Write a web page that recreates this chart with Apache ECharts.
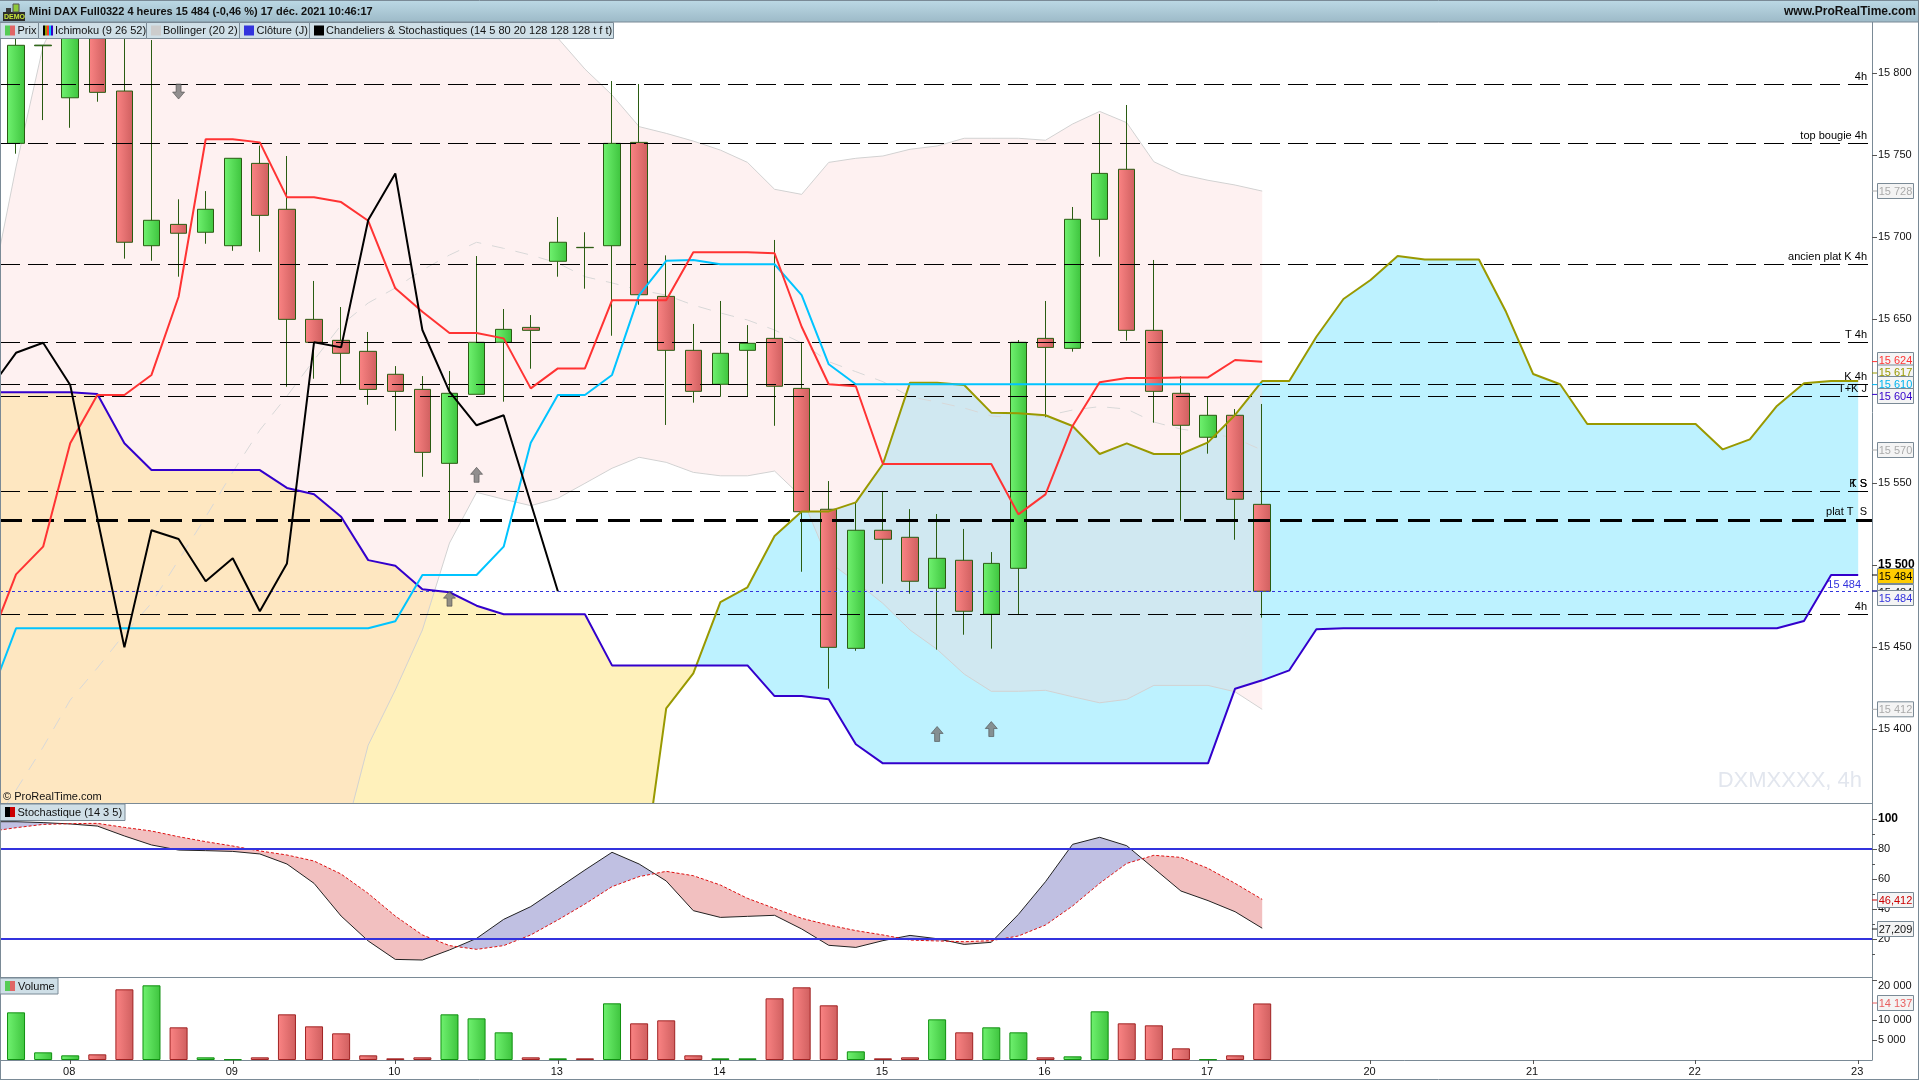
<!DOCTYPE html>
<html><head><meta charset="utf-8">
<style>html,body{margin:0;padding:0;background:#fff}#c{width:1920px;height:1080px}</style>
<script src="https://cdn.jsdelivr.net/npm/echarts@6/dist/echarts.min.js"></script>
</head><body><div id="c"></div>
<script>
// ---- Data (first bar = index 0; line arrays start with one lead point at index -1, just left of the first bar)
const dayLabels=["08","09","10","13","14","15","16","17","20","21","22","23"];
const dayTicks=[2,8,14,20,26,32,38,44,50,56,62,68];
const opens=[15757.1,15816.6,15784.9,15826,15789,15694.7,15707.7,15702.9,15694.7,15744.9,15716.9,15649.8,15637,15630.3,15616.3,15607.1,15562,15604.1,15635.8,15644.9,15685.2,15693.7,15694.7,15757.7,15663.8,15630.9,15610.2,15630.9,15638.2,15607.7,15534,15449.2,15521.2,15516.9,15485.8,15502.9,15470,15498,15638.2,15632.1,15710.8,15741.3,15643.1,15604.7,15577.9,15591.3,15537];
const closes=[15816.9,15817,15826,15788.2,15696.8,15710.2,15702.3,15716.9,15748,15713.2,15649.8,15635.8,15629.1,15607.1,15605.9,15568.7,15604.7,15635.8,15643.7,15643.1,15696.8,15693.5,15757.1,15664.8,15630.9,15605.9,15629.1,15635.2,15609,15532.5,15449.8,15521.2,15515.7,15490.1,15504.1,15471.8,15501,15635.8,15632.7,15710.8,15738.8,15643.1,15605.9,15585.2,15591.3,15540.1,15484];
const lows=[15750.8,15771.3,15766.6,15782.5,15686.8,15685.5,15675.8,15695.9,15691.6,15691,15608.7,15613.6,15610.4,15597.7,15581.9,15553.8,15527.3,15604.1,15599.6,15619.7,15675.8,15668.5,15639.8,15658.7,15585.4,15599,15602.6,15602.6,15584.9,15495.9,15424.6,15447.7,15488.6,15482.5,15448.4,15457.5,15449,15470,15590.1,15630.1,15688,15636.8,15586.8,15527,15567.9,15515.4,15467.9];
const highs=[15826.2,15817,15829,15829,15826,15820.1,15723,15728,15748,15755.7,15749.4,15673.2,15657.3,15642.1,15621.3,15615.2,15618.3,15688.4,15656.1,15652.4,15712.2,15702.9,15795.1,15793.3,15688.8,15647,15661,15646.3,15698.2,15636,15551.2,15538,15545,15534.1,15531.1,15522,15507.9,15637.2,15661,15718.3,15775,15780.5,15686,15615.2,15602.6,15595.1,15598.2];
const volumes=[11917,1917,1167,1417,17667,18667,8167,667,167,667,11417,8417,6667,1167,417,667,11417,10417,6917,667,417,417,14167,9167,9917,1167,417,417,15417,18167,13667,2167,417,667,10167,6917,8167,6917,667,917,12167,9167,8667,2917,167,1167,14137];
const tenkan=[15451.8,15494.3,15511.2,15574.2,15603.7,15603.7,15615.9,15663.6,15759.6,15759.6,15757.7,15724.2,15724.2,15721.3,15709.9,15668.7,15654.4,15641.5,15641.5,15638.2,15607.7,15619.9,15619.9,15661.4,15661.4,15661.4,15690.7,15690.7,15690.7,15690.1,15645.3,15610.2,15609,15561.6,15561.6,15561.6,15561.6,15561.6,15530.9,15543.1,15584.8,15611.4,15614,15614,15614.4,15614.4,15625,15624];
const kijun=[15417.7,15461.4,15461.4,15461.4,15461.4,15461.4,15461.4,15461.4,15461.4,15461.4,15461.4,15461.4,15461.4,15461.4,15461.4,15465.7,15493.9,15493.9,15493.9,15511.2,15574.6,15603.7,15603.7,15615.9,15664.6,15685.5,15686,15683.4,15683.4,15683.4,15664.6,15622.4,15610.2,15610.2,15610.2,15610.2,15610.2,15610.2,15610.2,15610.2,15610.2,15610.2,15610.2,15610.2,15610.2,15610.2,15610.2,15610.2];
const senkouB=[15605.3,15605.3,15605.3,15605.3,15604.3,15574.2,15557.9,15557.9,15557.9,15557.9,15557.9,15547,15543.1,15529.4,15503,15499.6,15485.2,15483.4,15475.2,15470,15470,15470,15470,15438.8,15438.8,15438.8,15438.8,15438.8,15438.8,15420.1,15420.1,15418.1,15390.7,15379.1,15379.1,15379.1,15379.1,15379.1,15379.1,15379.1,15379.1,15379.1,15379.1,15379.1,15379.1,15379.1,15424.6,15429.7,15435.8,15460.8,15461.4,15461.4,15461.4,15461.4,15461.4,15461.4,15461.4,15461.4,15461.4,15461.4,15461.4,15461.4,15461.4,15461.4,15461.4,15461.4,15461.4,15465.9,15493.9,15493.9];
const senkouA=[15280,15280,15280,15280,15280,15280,15280,15280,15280,15280,15280,15280,15280,15280,15280,15280,15280,15280,15280,15280,15280,15280,15280,15280,15292.7,15412.6,15434,15477.4,15486.4,15517.7,15532.7,15532.7,15538.2,15561.6,15611.2,15611.2,15609.8,15592.9,15592.5,15591.3,15584.8,15567.7,15574.2,15567.7,15567.7,15574.8,15591.5,15612.2,15612.2,15639.2,15662.2,15673.8,15688.4,15686.3,15686.3,15686.3,15654.4,15616.5,15610.2,15586,15586,15586,15586,15586,15570.5,15576.6,15597,15610.8,15612.2,15612.2];
const bollUpper=[15659.8,15742.7,15816.5,15850.6,15858,15862,15865,15866,15866,15865,15864,15863,15862,15861,15860,15860,15859,15858,15855,15848,15838.4,15821.3,15802.4,15786.6,15767.3,15763.2,15758.5,15753,15745.5,15729.1,15726,15745.5,15748,15749.4,15753.5,15755.5,15760.2,15760.2,15760.2,15759,15768.9,15776.6,15769.7,15745.9,15738.2,15734.6,15731.7,15728];
const bollMid=[15338.4,15362.8,15389,15417.7,15437.2,15457.9,15476.8,15503,15529.3,15556.7,15582.3,15603,15625,15646.3,15659.8,15668.9,15679.9,15689,15696.8,15693.1,15689,15684.1,15675.8,15672,15667.7,15664.6,15658.5,15653.7,15649.4,15643.3,15635.4,15624,15617.9,15611.8,15602.6,15599.4,15595.7,15590.9,15589.6,15590.9,15594.5,15596.6,15595.1,15587.2,15582.9,15580.5,15577.4,15570];
const bollLower=[15250,15250,15250,15250,15250,15250,15250,15250,15250,15250,15250,15250,15283.5,15326.8,15390.2,15423.8,15460.4,15513.4,15544.3,15540.1,15536.2,15540.7,15549.8,15559,15565.7,15562.6,15556.5,15554.4,15554.4,15557.3,15541.6,15502,15489.8,15476.6,15460.4,15448.6,15433.5,15423,15423,15423.6,15419.7,15416,15418.1,15426.6,15426.6,15426.6,15422.7,15412];
const chandelier=[15606.7,15629.4,15635.5,15609.8,15528.7,15449.8,15521.2,15515.9,15490.1,15504.1,15471.8,15501,15635.8,15632.7,15710.4,15738.8,15643.3,15605.7,15585.2,15591.3,15537.8,15484];
const stochK=[98.2,98.2,97.6,96.7,95.3,88.7,82.7,79.3,78.9,78.4,76.7,70,57.1,35.3,18.7,6.4,6,12.7,20.4,33.1,41.6,53.8,66,77.8,70,58.7,38.9,34.4,35.1,35.8,26.7,15.8,14.4,18.9,22.4,20.2,16.4,17.8,36.4,58.2,83.1,87.8,82.2,67.1,52,45.6,38.2,27.2];
const stochD=[91.6,94.2,96.4,96.9,97.1,94.4,92,88.2,84.9,82,78.7,76,72,63.3,50.4,35.3,22.7,15.6,13.1,15.6,22.7,32.7,43.3,54.9,61.6,65.1,62.2,56,47.1,40.4,33.8,29.3,25.6,22.7,19.3,18.7,18.2,18.9,22,29.3,42,57.1,70.4,75.8,74.4,67.1,57.1,46.4];
const thinLevels=[[15793.1,"4h"],[15757.1,"top bougie 4h"],[15683.4,"ancien plat K 4h"],[15635.8,"T 4h"],[15610.2,"K 4h"],[15602.9,"T+K J"],[15545,"K S"],[15545,"T S"],[15470,"4h"]];
const thickLevels=[[15527.3,"plat T  S"]];
const lastClose=[[15484,"15 484"]];
const arrowsUp=[[16,15479.5],[17,15555],[34,15397],[36,15400]];
const arrowsDown=[[6,15788.7]];
const priceTicks=[15400,15450,15500,15550,15650,15700,15750,15800];
const stochTicks=[20,40,60,80,100];
const stochMinor=[10,30,50,70,90];
const volumeTicks=[5000,10000,20000];

// ---- Layout and styles
const FONT='"Liberation Sans",Arial,sans-serif';
const AXIS='#7a8a96';
const XMIN=-0.592, XMAX=68.51;
const STOCH_MIN=-5.33, STOCH_MAX=110.67, STOCH_TOP=803, STOCH_H=174;
const fmt=v=>String(v).replace(/\B(?=(\d{3})+$)/g,' ');
const candleData=opens.map((o,i)=>[i,o,closes[i],lows[i],highs[i]]);
const grad=(a,b)=>new echarts.graphic.LinearGradient(0,0,1,0,[{offset:0,color:a},{offset:1,color:b}]);
const RED=()=>grad('#fb8484','#cf5f5f'), GREEN=()=>grad('#70f270','#3ec43e');
const led=a=>a.map((v,i)=>[i-1,v]);

function band(xi,yi,a,b,colPos,colNeg,z){
  return {type:'custom',xAxisIndex:xi,yAxisIndex:yi,clip:true,silent:true,z:z,data:[[0,a[0]]],
    renderItem(params,api){
      const n=Math.min(a.length,b.length), kids=[];
      let up=[],lo=[],sign=0;
      const flush=()=>{ if(up.length>1) kids.push({type:'polygon',shape:{points:up.concat(lo.slice().reverse())},style:{fill:sign>=0?colPos:colNeg,stroke:null}}); };
      let pu=null,pl=null;
      for(let i=0;i<n;i++){
        const u=api.coord([i-1,a[i]]), l=api.coord([i-1,b[i]]);
        const s=a[i]>=b[i]?1:-1;
        if(i>0 && s!==sign){
          const d0=pu[1]-pl[1], d1=u[1]-l[1], t=d0/(d0-d1);
          const cx=[pu[0]+(u[0]-pu[0])*t, pu[1]+(u[1]-pu[1])*t];
          up.push(cx); lo.push(cx); flush(); up=[cx]; lo=[cx];
        }
        up.push(u); lo.push(l); sign=s; pu=u; pl=l;
      }
      flush();
      return {type:'group',children:kids};
    }};
}
const line=(d,color,width,z,extra)=>Object.assign({type:'line',data:led(d),xAxisIndex:0,yAxisIndex:0,symbol:'none',silent:true,z:z,animation:false,
  lineStyle:{color:color,width:width}},extra||{});
const lvl=(v,t,ls,color,dist)=>({yAxis:v,lineStyle:ls,label:{show:!!t,formatter:t||'',position:'insideEndTop',distance:dist||[5,2],color:color||'#000',fontSize:11,fontFamily:FONT}});
const thinStyle={color:'#000',width:1,type:[20,8]}, thickStyle={color:'#000',width:3,type:[22,10]}, dotStyle={color:'#3333dd',width:1,type:[3,3]};
const hData=thinLevels.map(r=>lvl(r[0],r[1],thinStyle))
  .concat(thickLevels.map(r=>lvl(r[0],r[1],thickStyle,'#000',[5,3])))
  .concat(lastClose.map(r=>lvl(r[0],r[1],dotStyle,'#3333dd',[11,1])));
const arrowPath='path://M6 0 L12 7 L8.5 7 L8.5 15 L3.5 15 L3.5 7 L0 7 Z';
const arrowData=arrowsUp.map(a=>({value:a})).concat(arrowsDown.map(a=>({value:a,symbolRotate:180})));

const xBase={type:'value',min:XMIN,max:XMAX,splitLine:{show:false}};
const volData=volumes.map((v,i)=>{
  const up=closes[i]>opens[i];
  return {value:[i,v],itemStyle:{color:up?GREEN():RED(),borderColor:up?'#109010':'#a02222',borderWidth:1}};
});

const option={
  animation:false,
  textStyle:{fontFamily:FONT},
  grid:[
    {left:0,width:1872,top:22,height:781},
    {left:0,width:1872,top:STOCH_TOP,height:STOCH_H},
    {left:0,width:1872,top:977,height:83}
  ],
  xAxis:[
    Object.assign({},xBase,{gridIndex:0,show:false}),
    Object.assign({},xBase,{gridIndex:1,show:false}),
    Object.assign({},xBase,{gridIndex:2,
      axisLine:{show:true,onZero:false,lineStyle:{color:AXIS,width:1}},
      axisTick:{show:true,length:4,customValues:dayTicks,lineStyle:{color:'#555'}},
      axisLabel:{show:true,customValues:dayTicks,color:'#111',fontSize:11,margin:6,fontFamily:FONT,padding:[0,2,0,0],
        formatter:v=>dayLabels[dayTicks.indexOf(v)]}})
  ],
  yAxis:[
    {type:'value',gridIndex:0,position:'right',min:15354.9,max:15831.1,splitLine:{show:false},
      axisLine:{show:true,onZero:false,lineStyle:{color:AXIS}},
      axisTick:{show:true,length:5,customValues:priceTicks,lineStyle:{color:'#555'}},
      axisLabel:{customValues:priceTicks,margin:6,fontSize:11,color:'#111',fontFamily:FONT,
        formatter:v=>v===15500?'{b|'+fmt(v)+'}':fmt(v),rich:{b:{fontWeight:'bold',fontSize:12,color:'#000',fontFamily:FONT}}}},
    {type:'value',gridIndex:1,position:'right',min:STOCH_MIN,max:STOCH_MAX,splitLine:{show:false},
      axisLine:{show:true,onZero:false,lineStyle:{color:AXIS}},
      axisTick:{show:true,length:5,customValues:stochTicks,lineStyle:{color:'#555'}},
      axisLabel:{customValues:stochTicks,margin:6,fontSize:11,color:'#111',fontFamily:FONT,
        formatter:v=>v===100?'{b|100}':String(v),rich:{b:{fontWeight:'bold',fontSize:12,color:'#000',fontFamily:FONT}}}},
    {type:'value',gridIndex:2,position:'right',min:0,max:20750,splitLine:{show:false},
      axisLine:{show:true,onZero:false,lineStyle:{color:AXIS}},
      axisTick:{show:true,length:5,customValues:volumeTicks,lineStyle:{color:'#555'}},
      axisLabel:{customValues:volumeTicks,margin:6,fontSize:11,color:'#111',fontFamily:FONT,verticalAlignMaxLabel:'top',
        formatter:v=>fmt(v)}}
  ],
  series:[
    band(0,0,senkouA,senkouB,'rgb(189,242,255)','rgb(255,241,187)',1),
    band(0,0,bollUpper,bollLower,'rgba(252,208,208,0.3)','rgba(252,208,208,0.3)',2),
    line(bollUpper,'#d2d2d2',1,3),
    line(bollLower,'#d2d2d2',1,3),
    line(bollMid,'#d8d8d8',1,3,{lineStyle:{color:'#d8d8d8',width:1,type:[13,11]}}),
    {type:'candlestick',xAxisIndex:0,yAxisIndex:0,data:candleData,barWidth:17,z:4,silent:true,
      encode:{x:0,y:[1,2,3,4]},
      itemStyle:{color:GREEN(),color0:RED(),borderColor:'#2a5c12',borderColor0:'#2a5c12',borderWidth:1}},
    line(senkouA,'#999900',2,5),
    line(senkouB,'#3300cc',2,5),
    line(kijun,'#00c4ff',2,5),
    line(tenkan,'#ff3333',2,5),
    line(chandelier,'#000',2,5),
    {type:'line',xAxisIndex:0,yAxisIndex:0,data:[],symbol:'none',silent:true,z:6,
      markLine:{silent:true,symbol:'none',animation:false,data:hData}},
    {type:'scatter',xAxisIndex:0,yAxisIndex:0,data:arrowData,symbol:arrowPath,symbolSize:[12,15],silent:true,z:7,
      itemStyle:{color:'#777',borderColor:'#444',borderWidth:0.7}},
    band(1,1,stochK,stochD,'#c0c0e2','#f2c0c0',1),
    {type:'line',xAxisIndex:1,yAxisIndex:1,data:led(stochK),symbol:'none',silent:true,z:3,lineStyle:{color:'#222',width:1}},
    {type:'line',xAxisIndex:1,yAxisIndex:1,data:led(stochD),symbol:'none',silent:true,z:3,lineStyle:{color:'#dd1111',width:1,type:[3,2]}},
    {type:'line',xAxisIndex:1,yAxisIndex:1,data:[],symbol:'none',silent:true,z:4,
      markLine:{silent:true,symbol:'none',animation:false,label:{show:false},lineStyle:{color:'#3333dd',width:2,type:'solid'},data:[{yAxis:80},{yAxis:20}]}},
    {type:'bar',xAxisIndex:2,yAxisIndex:2,data:volData,barWidth:18,silent:true,z:2}
  ]
};

// ---- Chrome: title bar, legends, price tags
const G=[];
const rect=(x,y,w,h,fill,stroke,z)=>G.push({type:'rect',silent:true,z:z||100,shape:{x,y,width:w,height:h},style:{fill:fill,stroke:stroke||null,lineWidth:1}});
const seg=(x1,y1,x2,y2,c,z,lw)=>G.push({type:'line',silent:true,z:z||100,shape:{x1,y1,x2,y2},style:{stroke:c,lineWidth:lw||1}});
const txt=(x,y,t,o)=>G.push({type:'text',silent:true,z:(o&&o.z)||101,style:Object.assign({x,y,text:t,fill:'#111',font:'11px '+FONT,verticalAlign:'middle',align:'left'},o||{})});
const vg=(a,b)=>new echarts.graphic.LinearGradient(0,0,0,1,[{offset:0,color:a},{offset:1,color:b}]);

rect(0,0,1918,22,vg('#bcd9e5','#9dbac8'));
seg(0,22,1918,22,AXIS);
seg(0.5,0,0.5,1080,AXIS,99);
seg(1918.5,0,1918.5,1080,AXIS);
seg(0,0.5,1918,0.5,AXIS);
seg(0,1079.5,1918,1079.5,AXIS);
seg(0,803.5,1872,803.5,AXIS,99);
seg(0,977.5,1872,977.5,AXIS,99);
// short minor ticks on the stochastic scale
stochMinor.forEach(v=>{
  const y=Math.round(STOCH_TOP+(STOCH_MAX-v)/(STOCH_MAX-STOCH_MIN)*STOCH_H)+0.5;
  seg(1872,y,1875,y,'#555',99);
});
// demo badge
rect(3,12,22,9,'#2b2b2b');
rect(13,4,6,8,'#8fc93a','#555');
rect(6,8,5,4,'#3a3a3a');
txt(4,16.8,'DEMO',{font:'bold 7px '+FONT,fill:'#c8e63c'});
txt(29,11.5,'Mini DAX Full0322 4 heures 15 484 (-0,46 %) 17 déc. 2021 10:46:17',{font:'bold 11px '+FONT,fill:'#111'});
txt(1916,11.5,'www.ProRealTime.com',{font:'bold 12px '+FONT,fill:'#111',align:'right'});
// legend boxes
const BOX='#cfdfe7';
const legend=[
  {x:0,w:38.5,t:'Prix',tx:17.5,icons:['#55cc55','#e06666'],ix:5,iw:10},
  {x:38.5,w:108,t:'Ichimoku (9 26 52)',tx:55,icons:['#000','#999900','#ff3333','#00c4ff','#3300cc'],ix:43,iw:10},
  {x:146.5,w:93,t:'Bollinger (20 2)',tx:163,icons:['#cccccc'],ix:151,iw:10},
  {x:239.5,w:70,t:'Clôture (J)',tx:256.5,icons:['#3333dd'],ix:244,iw:10},
  {x:309.5,w:304,t:'Chandeliers & Stochastiques (14 5 80 20 128 128 128 t f t)',tx:326,icons:['#000'],ix:314,iw:10}
];
legend.forEach(l=>{
  rect(l.x,22.5,l.w,16,BOX,AXIS);
  const n=l.icons.length;
  l.icons.forEach((c,i)=>rect(l.ix+i*l.iw/n,25.5,l.iw/n,10,c,null,101));
  txt(l.tx,30.5,l.t);
});
rect(0,804,125,16.5,BOX,AXIS);
rect(5,807,5,10,'#000',null,101); rect(10,807,5,10,'#cc0000',null,101);
txt(17.5,812.5,'Stochastique (14 3 5)');
rect(0,978,58,16,BOX,AXIS);
rect(5,981,5,10,'#55cc55',null,101); rect(10,981,5,10,'#e06666',null,101);
txt(18,986.5,'Volume');
txt(3,797,'© ProRealTime.com',{fill:'#111'});
txt(1862,780.5,'DXMXXXX, 4h',{font:'22px '+FONT,fill:'#e2e6ee',align:'right',z:50});
// value tags
const tags=[
  ['15 728','#aaaaaa',191,'#f4f4f4',191],
  ['15 624','#ff3333',360,'#f4f4f4',361.6],
  ['15 617','#999900',372.5,'#f4f4f4',373],
  ['15 610','#00b4f0',384,'#f4f4f4',384.6],
  ['15 604','#3300cc',396,'#f4f4f4',394.4],
  ['15 570','#aaaaaa',450,'#f4f4f4',450],
  ['15 484','#111111',592,'#f4f4f4',591],
  ['15 484','#000000',576,'#ffcc00',575],
  ['15 484','#3333dd',598,'#f4f4f4',591],
  ['15 412','#aaaaaa',709.3,'#f4f4f4',709.3],
  ['46,412','#cc0000',900,'#f4f4f4',900],
  ['27,209','#111111',929,'#f4f4f4',929],
  ['14 137','#e86060',1003,'#f4f4f4',1003]
];
tags.forEach((t,i)=>{
  seg(1872,t[4],1878,t[4],t[1],110+i*2);
  rect(1877.5,t[2]-7.5,36,15,t[3],AXIS,110+i*2);
  txt(1895.5,t[2]+0.5,t[0],{fill:t[1],align:'center',z:111+i*2});
});
option.graphic={elements:G};

const chart=echarts.init(document.getElementById('c'),null,{renderer:'canvas',width:1920,height:1080});
chart.setOption(option);
</script></body></html>
